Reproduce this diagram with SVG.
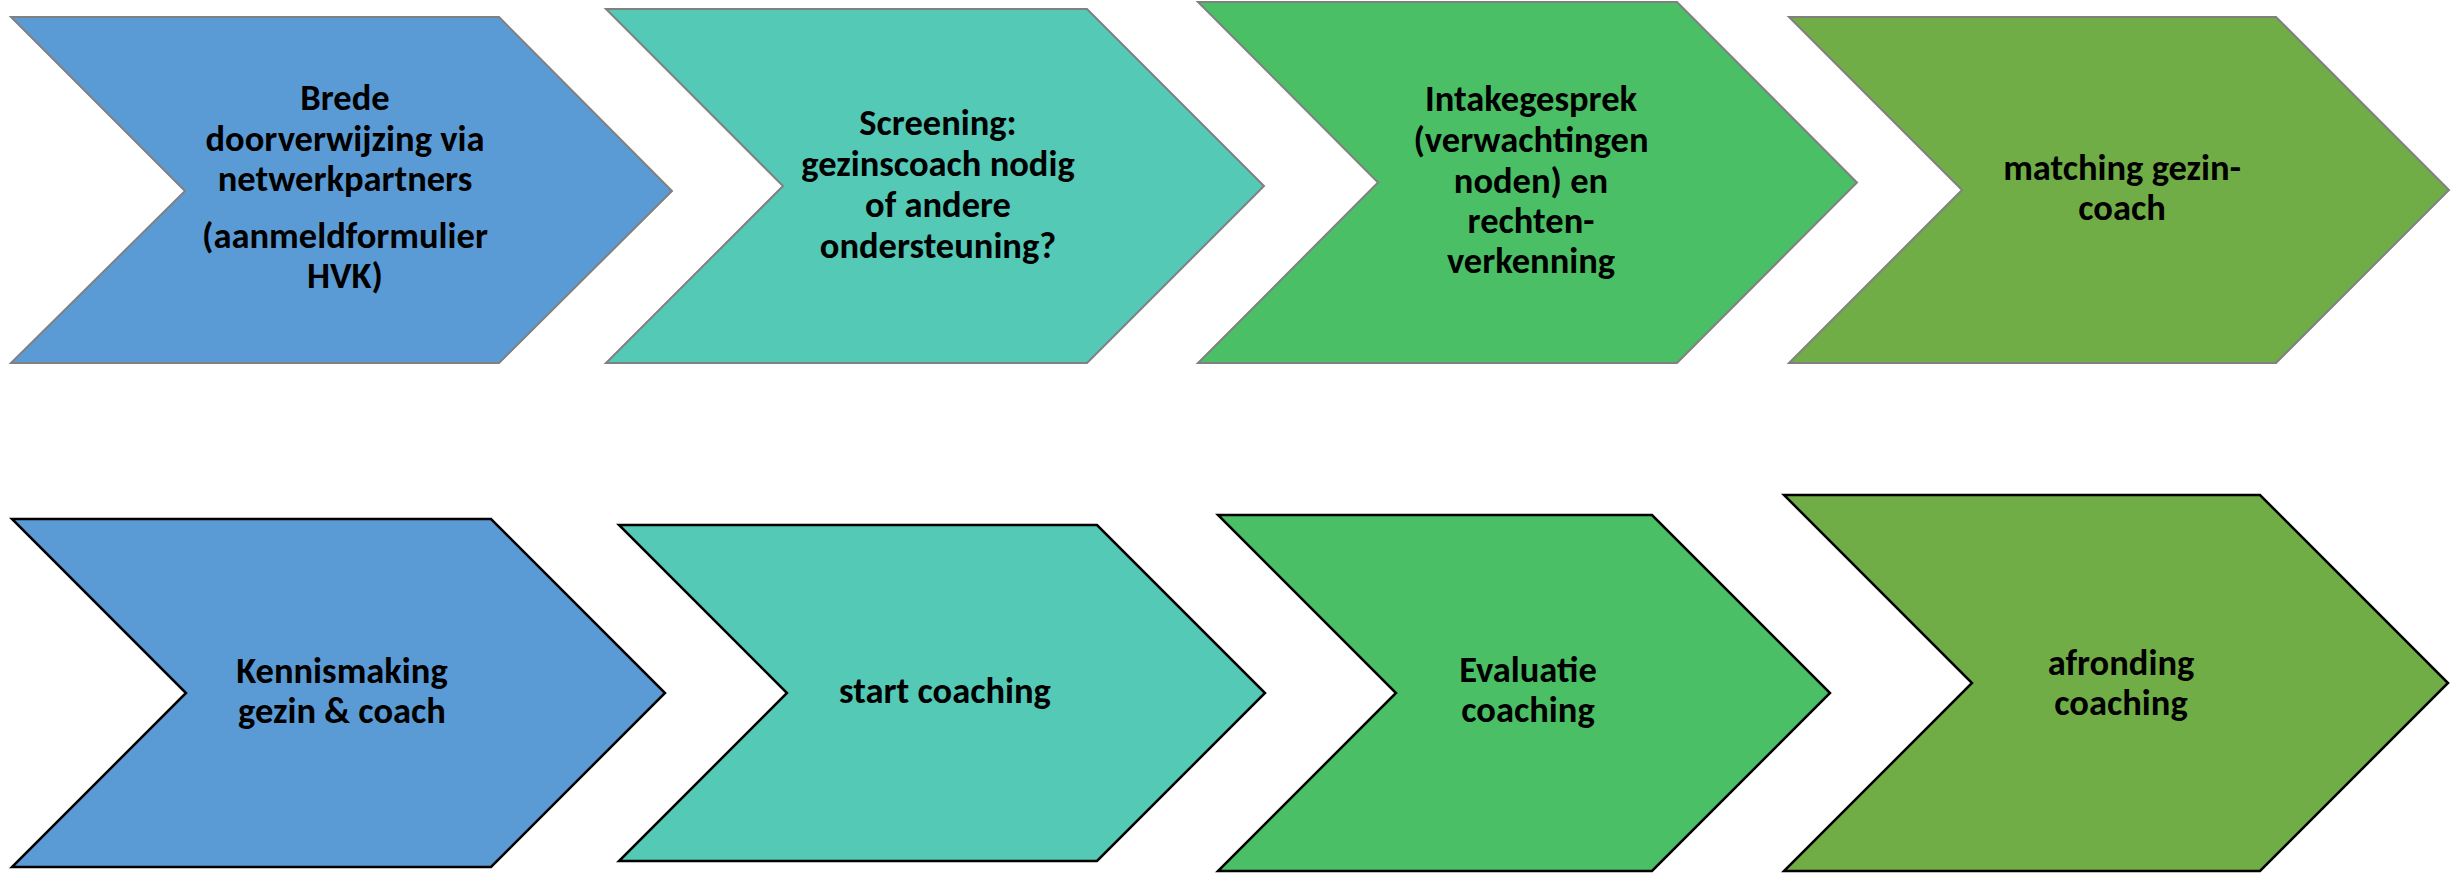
<svg xmlns="http://www.w3.org/2000/svg" width="2451" height="873" viewBox="0 0 2451 873">
  <style>
    .top { stroke: #808080; stroke-width: 2; stroke-linejoin: miter; }
    .bot { stroke: #000000; stroke-width: 2.5; stroke-linejoin: miter; }
    .blue { fill: #5B9BD5; }
    .teal { fill: #53C9B6; }
    .green { fill: #4ABF65; }
    .olive { fill: #70AD47; }
    text { font-family: Carlito, Lato, "Liberation Sans", sans-serif; font-weight: bold; font-size: 36.5px; fill: #000000; text-anchor: middle; }
  </style>
  <rect width="2451" height="873" fill="#FFFFFF"/>
  <g id="connectors"></g>
  <g id="node-1">
    <polygon class="top blue" points="11,17 499,17 672,191 499,363 11,363 185,191"/>
    <text x="345" y="109.5">Brede</text>
    <text x="345" y="150.5">doorverwijzing via</text>
    <text x="345" y="191">netwerkpartners</text>
    <text x="345" y="248">(aanmeldformulier</text>
    <text x="345" y="288">HVK)</text>
  </g>
  <g id="node-2">
    <polygon class="top teal" points="606,9 1087,9 1264,186 1087,363 606,363 783,186"/>
    <text x="938" y="135">Screening:</text>
    <text x="938" y="176">gezinscoach nodig</text>
    <text x="938" y="217">of andere</text>
    <text x="938" y="258">ondersteuning?</text>
  </g>
  <g id="node-3">
    <polygon class="top green" points="1198,2 1677,2 1857,182.5 1677,363 1198,363 1378,182.5"/>
    <text x="1531" y="111">Intakegesprek</text>
    <text x="1531" y="152">(verwachtingen</text>
    <text x="1531" y="193">noden) en</text>
    <text x="1531" y="233">rechten-</text>
    <text x="1531" y="273">verkenning</text>
  </g>
  <g id="node-4">
    <polygon class="top olive" points="1789,17 2276,17 2449,190 2276,363 1789,363 1962,190"/>
    <text x="2122" y="180">matching gezin-</text>
    <text x="2122" y="220">coach</text>
  </g>
  <g id="node-5">
    <polygon class="bot blue" points="12,519 491,519 665,693 491,867 12,867 186,693"/>
    <text x="342" y="683">Kennismaking</text>
    <text x="342" y="723">gezin &amp; coach</text>
  </g>
  <g id="node-6">
    <polygon class="bot teal" points="619,525 1097,525 1265,693 1097,861 619,861 787,693"/>
    <text x="945" y="703">start coaching</text>
  </g>
  <g id="node-7">
    <polygon class="bot green" points="1218,515 1652,515 1830,693 1652,871 1218,871 1396,693"/>
    <text x="1528" y="682">Evaluatie</text>
    <text x="1528" y="722">coaching</text>
  </g>
  <g id="node-8">
    <polygon class="bot olive" points="1784,495 2260,495 2448,683 2260,871 1784,871 1972,683"/>
    <text x="2121" y="675">afronding</text>
    <text x="2121" y="715">coaching</text>
  </g>
</svg>
